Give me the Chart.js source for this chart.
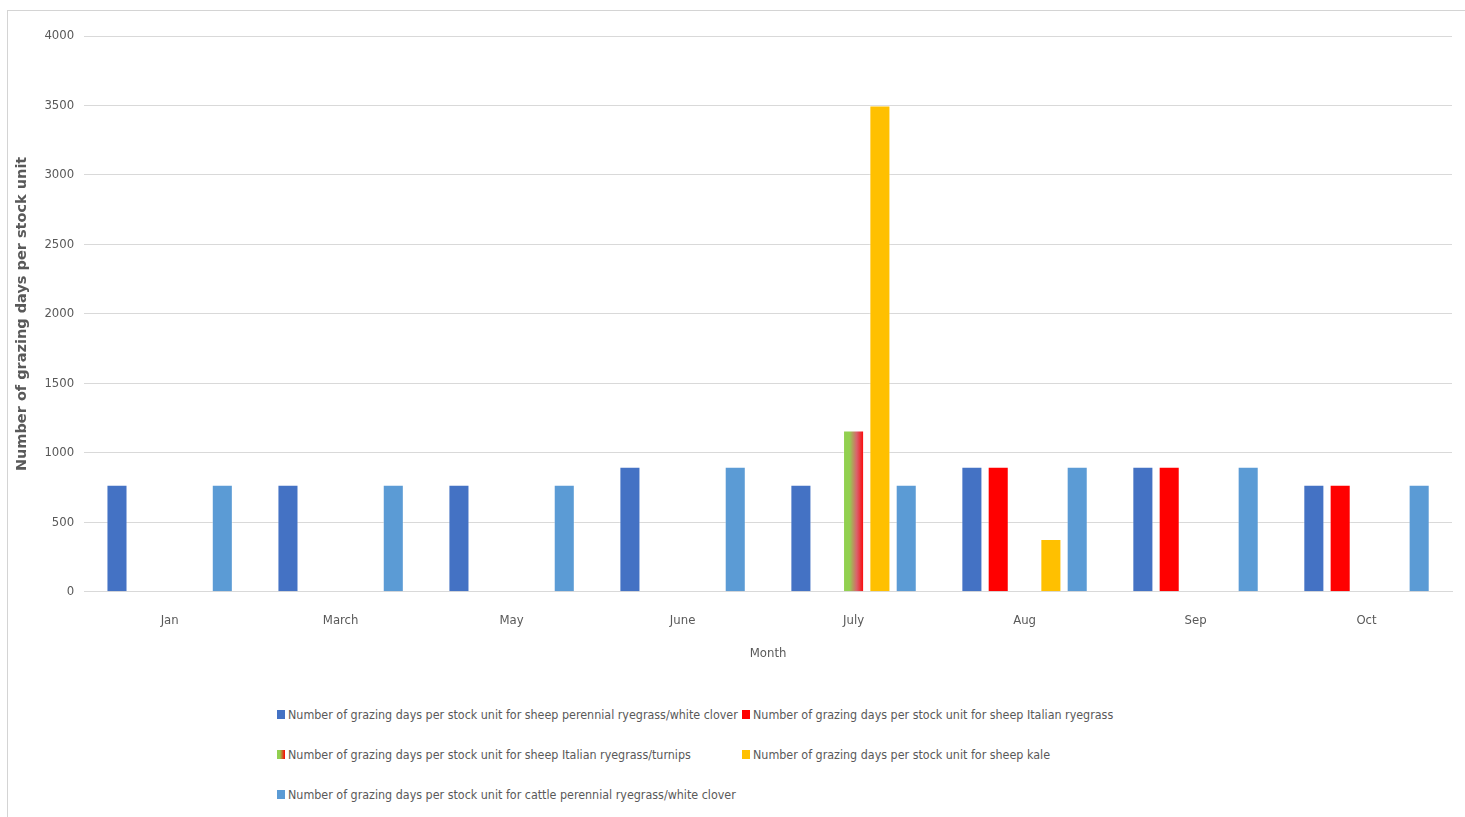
<!DOCTYPE html>
<html>
<head>
<meta charset="utf-8">
<script src="https://cdn.jsdelivr.net/npm/chart.js@4/dist/chart.umd.min.js"></script>
<style>
  body { margin: 0; background: #fff; }
  #wrap { position: relative; width: 1465px; height: 817px; overflow: hidden; }
  #frameTop { position: absolute; left: 7px; top: 10px; width: 1458px; height: 0; border-top: 1px solid #d4d4d4; }
  #frameLeft { position: absolute; left: 7px; top: 10px; width: 0; height: 807px; border-left: 1px solid #d4d4d4; }
  #chartBox { position: absolute; left: 0; top: 0; width: 1465px; height: 661px; }
  #legend { position: absolute; left: 277px; top: 703px; display: grid; grid-template-columns: 465px auto; row-gap: 18px;
    font-family: 'Liberation Sans Narrow', 'DejaVu Sans Condensed', sans-serif; font-size: 12.4px; color: #595959; }
  .item { display: flex; align-items: center; white-space: nowrap; height: 22px; }
  .sw { flex: 0 0 8px; width: 8px; height: 9px; margin-right: 3px; }
</style>
</head>
<body>
<div id="wrap">
  <div id="frameTop"></div>
  <div id="frameLeft"></div>
  <div id="chartBox"><canvas id="myChart"></canvas></div>
  <div id="legend"></div>
</div>
<script>
const months = ["Jan", "March", "May", "June", "July", "Aug", "Sep", "Oct"];

const sheepPerennial = [770, 770, 770, 900, 770, 900, 900, 770];
const sheepItalian = [null, null, null, null, null, 900, 900, 770];
const sheepItalianTurnips = [null, null, null, null, 1160, null, null, null];
const sheepKale = [null, null, null, null, 3500, 380, null, null];
const cattlePerennial = [770, 770, 770, 900, 770, 900, 900, 770];

const seriesNames = [
  "Number of grazing days per stock unit for sheep perennial ryegrass/white clover",
  "Number of grazing days per stock unit for sheep Italian ryegrass",
  "Number of grazing days per stock unit for sheep Italian ryegrass/turnips",
  "Number of grazing days per stock unit for sheep kale",
  "Number of grazing days per stock unit for cattle perennial ryegrass/white clover"
];
const colors = ["#4472C4", "#FF0000", "#92D050", "#FFC000", "#5B9BD5"];
const yTicks = [0, 500, 1000, 1500, 2000, 2500, 3000, 3500, 4000];

const catPct = 0.77;
const barPct = 0.8;
const tickFont = "'Liberation Sans Narrow', 'DejaVu Sans Condensed', sans-serif";

// legend below the chart, two columns
const legendEl = document.getElementById("legend");
seriesNames.forEach((name, i) => {
  const item = document.createElement("div");
  item.className = "item";
  const sw = document.createElement("span");
  sw.className = "sw";
  sw.style.background = i === 2 ? "linear-gradient(to right, #92D050 0%, #92D050 35%, #FF0000 100%)" : colors[i];
  const txt = document.createElement("span");
  txt.textContent = name;
  item.appendChild(sw);
  item.appendChild(txt);
  legendEl.appendChild(item);
});

// green -> red fill for the turnips bar
const turnipFill = (ctx) => {
  const chart = ctx.chart;
  const x = chart.scales.x;
  if (!x || ctx.dataIndex === undefined) return colors[2];
  const c = x.getPixelForValue(ctx.dataIndex);
  const w = (x.width / months.length) * catPct * barPct / 5;
  if (!isFinite(c) || !isFinite(w) || w <= 0) return colors[2];
  const g = chart.ctx.createLinearGradient(c - w / 2, 0, c + w / 2, 0);
  g.addColorStop(0, "#92D050");
  g.addColorStop(0.3, "#92D050");
  g.addColorStop(0.65, "#d9626c");
  g.addColorStop(1, "#FF0000");
  return g;
};

const seriesData = [sheepPerennial, sheepItalian, sheepItalianTurnips, sheepKale, cattlePerennial];
const datasets = seriesData.map((d, i) => ({
  label: seriesNames[i],
  data: d,
  backgroundColor: i === 2 ? turnipFill : colors[i],
  borderColor: "rgba(255,255,255,0.35)",
  borderWidth: 1,
  categoryPercentage: catPct,
  barPercentage: barPct,
}));

new Chart("myChart", {
  type: "bar",
  data: { labels: months, datasets: datasets },
  options: {
    responsive: true,
    maintainAspectRatio: false,
    animation: false,
    layout: { padding: { top: 36, left: 7, right: 13, bottom: 0 } },
    plugins: {
      legend: { display: false },
      tooltip: { enabled: false },
    },
    scales: {
      x: {
        grid: { display: false, drawTicks: false },
        border: { color: "#d9d9d9", width: 1 },
        ticks: { color: "#595959", font: { family: tickFont, size: 13 }, padding: 21 },
        title: { display: true, text: "Month", color: "#595959", font: { family: tickFont, size: 13 }, padding: { top: -4, bottom: 0 } },
      },
      y: {
        min: 0,
        max: 4000,
        afterBuildTicks: (axis) => { axis.ticks = yTicks.map((v) => ({ value: v })); },
        grid: { color: "#d9d9d9", lineWidth: 1, drawTicks: false },
        border: { display: false },
        ticks: { color: "#595959", font: { family: tickFont, size: 13 }, padding: 10, callback: (v) => String(v) },
        title: { display: true, text: "Number of grazing days per stock unit", color: "#595959",
          font: { family: "'DejaVu Sans', sans-serif", size: 14.5, weight: "bold" }, padding: { top: 7, bottom: 3 } },
      },
    },
  },
});
</script>
</body>
</html>
